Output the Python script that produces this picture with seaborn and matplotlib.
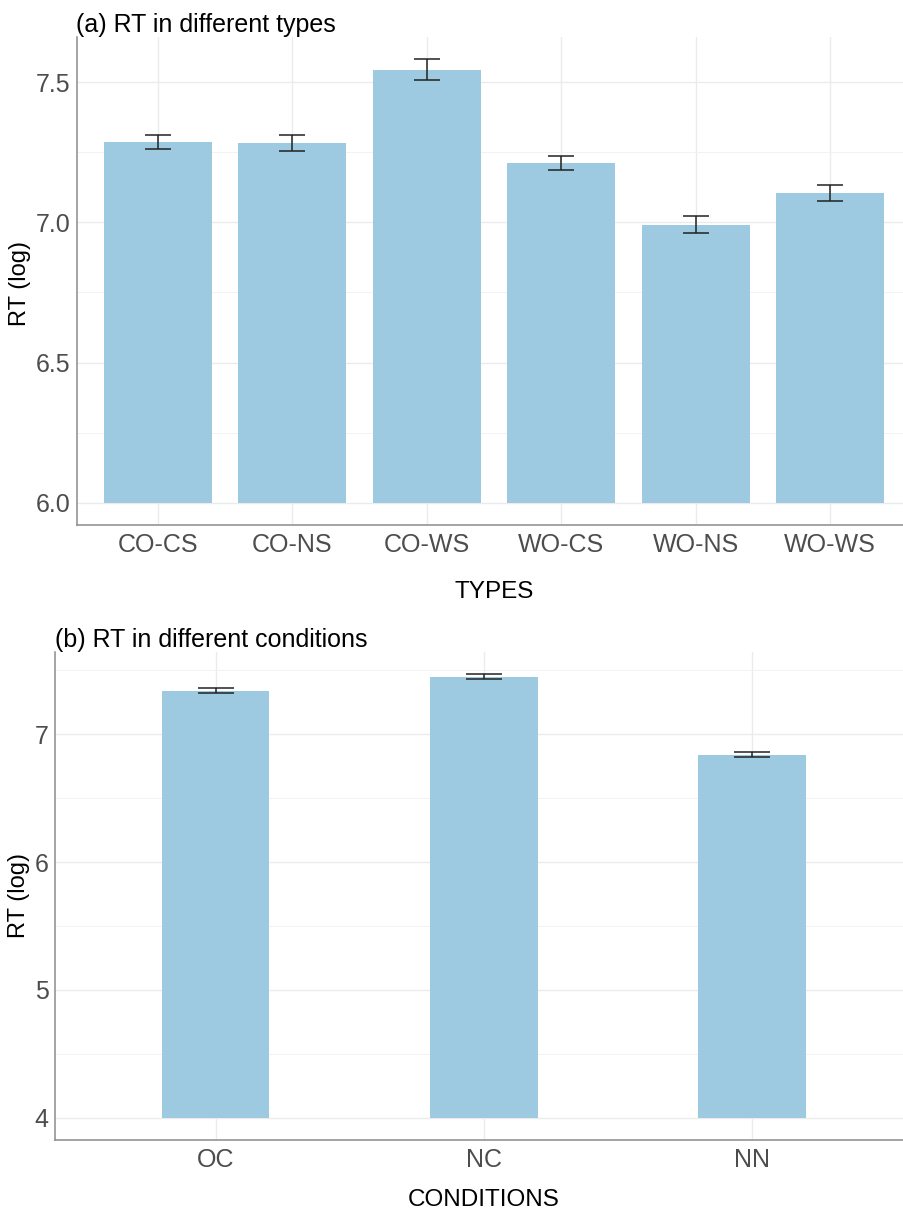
import numpy as np
import pandas as pd
import matplotlib
matplotlib.use("Agg")
import matplotlib.pyplot as plt
import seaborn as sns
from matplotlib.ticker import MultipleLocator

# Mean log reaction time per stimulus type, with error-bar half widths
types = ["CO-CS", "CO-NS", "CO-WS", "WO-CS", "WO-NS", "WO-WS"]
type_rt = [7.286, 7.283, 7.544, 7.211, 6.992, 7.105]
type_err = [0.025, 0.028, 0.038, 0.025, 0.030, 0.027]
type_base = 6.0

# Mean log reaction time per condition
conditions = ["OC", "NC", "NN"]
cond_rt = [7.341, 7.451, 6.840]
cond_err = [0.020, 0.022, 0.021]
cond_base = 4.0

sns.set_theme(style="white")
plt.rcParams["font.family"] = ["Liberation Sans", "DejaVu Sans"]

BAR = "#9ECAE1"
GRID = "#EBEBEB"
SPINE = "#8C8C8C"
TICKTXT = "#4D4D4D"

W, H = 904, 1216
fig = plt.figure(figsize=(W / 100, H / 100), dpi=100)


def px_axes(x0, x1, y_top, y_bot):
    return fig.add_axes([x0 / W, 1 - y_bot / H, (x1 - x0) / W, (y_bot - y_top) / H])


def style_axes(ax, ylim, major, minor, nbars):
    ax.set_xlim(-0.6, nbars - 1 + 0.6)
    ax.set_ylim(*ylim)
    ax.yaxis.set_major_locator(MultipleLocator(major))
    ax.yaxis.set_minor_locator(MultipleLocator(minor))
    ax.set_axisbelow(True)
    ax.grid(True, which="major", axis="both", color=GRID, linewidth=1.0)
    ax.grid(True, which="minor", axis="y", color="#F2F2F2", linewidth=0.7)
    for side in ("top", "right"):
        ax.spines[side].set_visible(False)
    for side in ("left", "bottom"):
        ax.spines[side].set_color(SPINE)
        ax.spines[side].set_linewidth(1.1)
    ax.tick_params(axis="both", which="major", length=3, width=0.8, color=SPINE,
                   labelsize=18, labelcolor=TICKTXT)
    ax.tick_params(axis="y", which="major", pad=1.5)
    ax.tick_params(axis="x", which="major", pad=3)
    ax.tick_params(axis="y", which="minor", length=0)


def panel(ax, cats, vals, errs, base, width, capsize):
    df = pd.DataFrame({"cat": cats, "height": np.array(vals) - base})
    sns.barplot(data=df, x="cat", y="height", bottom=base, color=BAR,
                saturation=1, width=width, errorbar=None, linewidth=0, ax=ax)
    ax.errorbar(x=np.arange(len(cats)), y=vals, yerr=errs, fmt="none",
                ecolor="#222222", elinewidth=1.1, capsize=capsize, capthick=1.1)


# (a) types
ax1 = px_axes(77, 911, 37, 525)
panel(ax1, types, type_rt, type_err, type_base, 0.8, 9.7)
style_axes(ax1, (5.921, 7.661), 0.5, 0.25, len(types))
ax1.set_yticks([6.0, 6.5, 7.0, 7.5])
ax1.set_yticklabels(["6.0", "6.5", "7.0", "7.5"])
ax1.set_xlabel("")
ax1.set_ylabel("")
fig.text(76 / W, 1 - 25 / H, "(a) RT in different types", fontsize=18,
         ha="left", va="center", color="black")
fig.text(20 / W, 1 - 283 / H, "RT (log)", fontsize=17, rotation=90,
         ha="center", va="center", color="black")
fig.text(494 / W, 1 - 592 / H, "TYPES", fontsize=17.5,
         ha="center", va="center", color="black")

# (b) conditions
ax2 = px_axes(55, 913, 652, 1140)
panel(ax2, conditions, cond_rt, cond_err, cond_base, 0.4, 13)
style_axes(ax2, (3.826, 7.644), 1, 0.5, len(conditions))
ax2.set_yticks([4, 5, 6, 7])
ax2.set_xlabel("")
ax2.set_ylabel("")
fig.text(55 / W, 1 - 640 / H, "(b) RT in different conditions", fontsize=18,
         ha="left", va="center", color="black")
fig.text(19 / W, 1 - 895 / H, "RT (log)", fontsize=17, rotation=90,
         ha="center", va="center", color="black")
fig.text(484 / W, 1 - 1200 / H, "CONDITIONS", fontsize=17.5,
         ha="center", va="center", color="black")

fig.savefig("out.png", dpi=100, facecolor="white")
